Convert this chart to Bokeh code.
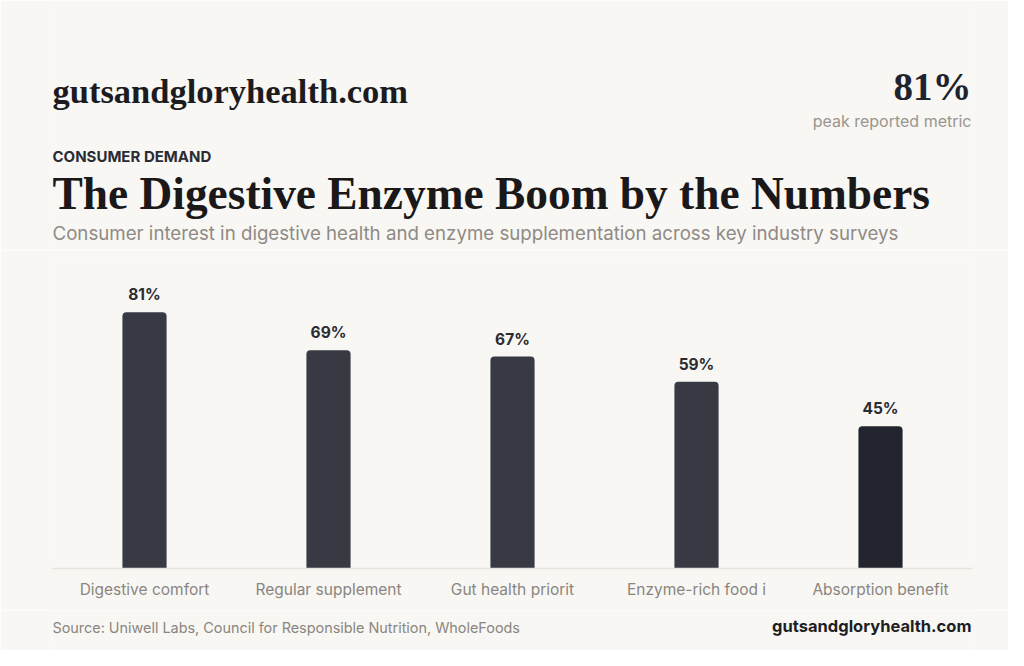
from bokeh.plotting import figure
from bokeh.layouts import column
from bokeh.models import ColumnDataSource, LabelSet, Range1d
from bokeh.core.properties import value
from bokeh.embed import file_html
from bokeh.resources import INLINE

# ---- data ----
categories = ["Digestive comfort", "Regular supplement", "Gut health priorit",
              "Enzyme-rich food i", "Absorption benefit"]
values = [81, 69, 67, 59, 45]
value_labels = [f"{v}%" for v in values]
bar_colors = ["#373943", "#373943", "#373943", "#373943", "#22252e"]

site = "gutsandgloryhealth.com"
kicker = "CONSUMER DEMAND"
title = "The Digestive Enzyme Boom by the Numbers"
subtitle = ("Consumer interest in digestive health and enzyme supplementation "
            "across key industry surveys")
peak_value = "81%"
peak_caption = "peak reported metric"
source_text = "Source: Uniwell Labs, Council for Responsible Nutrition, WholeFoods"

BG = "#f8f7f4"
SANS = "Inter"
SERIF = "Liberation Serif"
W = 1008
HEAD_H, CHART_H, FOOT_H = 250, 360, 40
FRAME_L, FRAME_R = 52, 972   # frames of all rows are aligned to the chart frame


def text_fig(h):
    f = figure(width=W, height=h, x_range=Range1d(FRAME_L, FRAME_R),
               y_range=Range1d(h, 0),
               output_backend="svg", toolbar_location=None,
               x_axis_location=None, y_axis_location=None,
               min_border_left=FRAME_L, min_border_right=W - FRAME_R,
               min_border_top=0, min_border_bottom=0,
               background_fill_color=BG, border_fill_color=BG,
               outline_line_color=None)
    f.xgrid.visible = False
    f.ygrid.visible = False
    return f


def txt(f, text, x, y, size, color, font=SANS, style="normal", align="left"):
    # compensate the renderer's baseline shift (~0.38 em)
    f.text(x=[x], y=[y - 0.38 * size], text=[text], text_font=value(font),
           text_font_size=f"{size}px", text_color=color,
           text_font_style=style, text_align=align,
           text_baseline="alphabetic")


# ---- header ----
head = text_fig(HEAD_H)
txt(head, site, 52, 104, 34.5, "#1c1c20", font=SERIF, style="bold")
txt(head, peak_value, 971, 101, 39, "#1f2330", font=SERIF, style="bold", align="right")
txt(head, peak_caption, 971, 127, 16, "#9a958f", align="right")
txt(head, kicker, 52, 162, 15, "#2a2b33", style="bold")
txt(head, title, 52, 211, 45.4, "#1a1818", font=SERIF, style="bold")
txt(head, subtitle, 52, 240, 18.7, "#8f8a84")

# ---- chart ----
chart = figure(x_range=categories, y_range=Range1d(0, 98),
               width=W, height=CHART_H, output_backend="svg",
               toolbar_location=None, y_axis_location=None,
               min_border_left=FRAME_L, min_border_right=W - FRAME_R,
               min_border_top=8, min_border_bottom=42,
               background_fill_color=BG, border_fill_color=BG,
               outline_line_color=None)
chart.xgrid.grid_line_color = None
chart.ygrid.grid_line_color = None

src = ColumnDataSource(dict(cat=categories, val=values, lab=value_labels,
                            col=bar_colors))
chart.vbar(x="cat", top="val", width=0.24, source=src, fill_color="col",
           line_color=None, border_radius=(4, 4, 0, 0))

chart.add_layout(LabelSet(x="cat", y="val", text="lab", source=src,
                          y_offset=12, text_align="center",
                          text_baseline="alphabetic",
                          text_font=value(SANS), text_font_size="15.5px",
                          text_font_style="bold", text_color="#2b2b30"))

ax = chart.xaxis[0]
ax.axis_line_color = "#e6e3dd"
ax.axis_line_width = 1.5
ax.major_tick_line_color = None
ax.minor_tick_line_color = None
ax.major_tick_out = 0
ax.major_label_standoff = 11
ax.major_label_text_font = SANS
ax.major_label_text_font_size = "15.5px"
ax.major_label_text_color = "#8a8580"

# ---- footer ----
foot = text_fig(FOOT_H)
txt(foot, source_text, 52, 22, 14.4, "#8a8580")
txt(foot, site, 971, 22, 16.5, "#1e1f25", style="bold", align="right")

p = column(head, chart, foot, spacing=0)

open("out.html", "w").write(file_html(p, INLINE))
